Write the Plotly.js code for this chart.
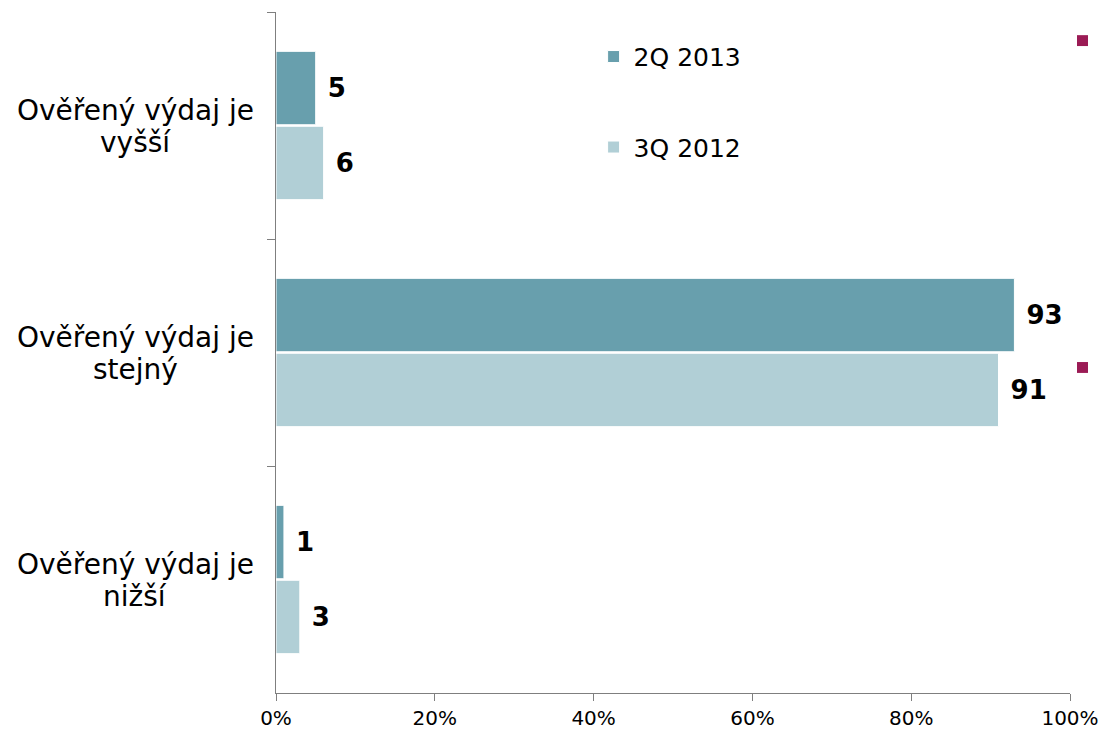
<!DOCTYPE html>
<html>
<head>
<meta charset="utf-8">
<script src="https://cdn.plot.ly/plotly-3.0.1.min.js"></script>
<style>html,body{margin:0;padding:0;background:#fff}#chart{width:1104px;height:736px}</style>
</head>
<body>
<div id="chart"></div>
<script>
const categories = ["Ověřený výdaj je<br>vyšší", "Ověřený výdaj je<br>stejný", "Ověřený výdaj je<br>nižší"];
const seriesNames = ["2Q 2013", "3Q 2012"];
const values2Q2013 = [5, 93, 1];
const values3Q2012 = [6, 91, 3];
const xTickVals = [0, 20, 40, 60, 80, 100];
const xTickText = ["0%", "20%", "40%", "60%", "80%", "100%"];

const colors = ["#689FAD", "#B1CFD6"];
const font = "DejaVu Sans, Verdana, sans-serif";

function barTrace(name, vals, color, grp) {
  return {
    type: "bar", orientation: "h", name: name, legendgroup: grp,
    y: categories, x: vals,
    marker: {color: color, line: {color: "#ffffff", width: 1}},
    text: vals.map(String),
    texttemplate: "\u00a0%{text}",
    textposition: "outside",
    cliponaxis: false,
    textfont: {family: font, size: 26, color: "#000000", weight: "bold"},
    hoverinfo: "skip"
  };
}

const data = [
  barTrace(seriesNames[0], values2Q2013, colors[0], "a"),
  barTrace(seriesNames[1], values3Q2012, colors[1], "b")
];

const annotations = [];
categories.forEach(c => {
  const lines = c.split("<br>");
  lines.forEach((ln, i) => {
    annotations.push({
      xref: "paper", yref: "y", x: 0, y: c, xanchor: "center", yanchor: "middle",
      xshift: -141, yshift: (i === 0 ? 16 : -16) - 1, text: ln, showarrow: false,
      font: {family: font, size: 28, color: "#000000"}
    });
  });
});

const layout = {
  width: 1104, height: 736,
  margin: {l: 276, r: 34, t: 12, b: 43},
  paper_bgcolor: "#ffffff", plot_bgcolor: "#ffffff",
  barmode: "group", bargap: 0.34, bargroupgap: 0.02,
  font: {family: font, color: "#000000"},
  xaxis: {
    range: [0, 100], tickmode: "array", tickvals: xTickVals, ticktext: xTickText,
    showgrid: false, zeroline: false, showline: true, linecolor: "#7f7f7f", linewidth: 1,
    ticks: "outside", ticklen: 7, tickcolor: "#7f7f7f",
    tickfont: {family: font, size: 20, color: "#000000"}
  },
  yaxis: {
    autorange: "reversed", showticklabels: false, showgrid: false, zeroline: false,
    showline: true, linecolor: "#7f7f7f", linewidth: 1,
    ticks: "outside", ticklen: 8, tickcolor: "#7f7f7f", tickson: "boundaries"
  },
  legend: {
    x: 0.4, y: 0.968, xanchor: "left", yanchor: "top",
    traceorder: "grouped", tracegroupgap: 55,
    font: {family: font, size: 25, color: "#000000"},
    bgcolor: "rgba(0,0,0,0)", itemwidth: 30
  },
  annotations: annotations,
  shapes: [
    {type: "rect", xref: "paper", yref: "paper", x0: 1.0088, x1: 1.0227, y0: 0.950, y1: 0.966, fillcolor: "#9B1B55", line: {width: 0}},
    {type: "rect", xref: "paper", yref: "paper", x0: 1.0088, x1: 1.0227, y0: 0.470, y1: 0.486, fillcolor: "#9B1B55", line: {width: 0}}
  ]
};

Plotly.newPlot("chart", data, layout, {displayModeBar: false, staticPlot: true});
</script>
</body>
</html>
